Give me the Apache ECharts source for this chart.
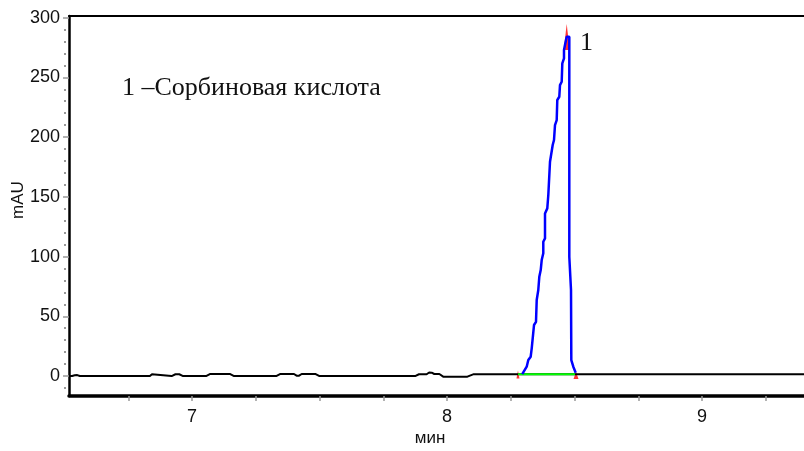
<!DOCTYPE html>
<html>
<head>
<meta charset="utf-8">
<script src="https://cdn.jsdelivr.net/npm/echarts@6/dist/echarts.min.js"></script>
<style>
  html, body { margin: 0; padding: 0; background: #fff; }
  #chart { width: 804px; height: 451px; }
</style>
</head>
<body>
<div id="chart"></div>
<script>
// axis ticks and labels
const xTicks = [6.75, 7, 7.25, 7.5, 7.75, 8, 8.25, 8.5, 8.75, 9, 9.25];
const xLabels = [7, 8, 9];
const yTicks = [0, 50, 100, 150, 200, 250, 300];
const yMinor = [-10, 10, 20, 30, 40, 60, 70, 80, 90, 110, 120, 130, 140, 160, 170, 180, 190,
  210, 220, 230, 240, 260, 270, 280, 290];

// black baseline trace (min, mAU)
const baseTime = [6.518, 6.525, 6.53, 6.54, 6.545, 6.55, 6.56, 6.58, 6.835, 6.843, 6.85, 6.92,
  6.935, 6.95, 6.965, 7.055, 7.07, 7.15, 7.165, 7.33, 7.345, 7.4, 7.41, 7.42, 7.43, 7.485, 7.5,
  7.875, 7.89, 7.92, 7.93, 7.94, 7.95, 7.97, 7.985, 8.08, 8.095, 8.105, 9.4];
const baseValue = [0, 0.5, 0, 0.6, 0, 0.8, 0, 0, 0, 1.5, 0, 0,
  1.5, 1.5, 0, 0, 1.7, 1.7, 0, 0, 1.7, 1.7, 0.3, 0.3, 1.7, 1.7, 0,
  0, 1.5, 1.5, 3, 2.8, 1.7, 1.7, -0.5, -0.5, 0.8, 1.6, 1.6];

// blue peak trace
const peakTime = [8.295, 8.2992, 8.3125, 8.3188, 8.3282, 8.3322, 8.3373, 8.3412, 8.349, 8.3518,
  8.358, 8.362, 8.3675, 8.3714, 8.3776, 8.3776, 8.3843, 8.3843, 8.3933, 8.3973, 8.4012, 8.4039,
  8.4106, 8.4145, 8.4196, 8.4235, 8.4302, 8.4325, 8.4404, 8.4431, 8.4498, 8.4522, 8.4588, 8.4588,
  8.4627, 8.4694, 8.4796, 8.4796, 8.4863, 8.4875, 8.4953, 8.5047];
const peakValue = [1.6, 2.8, 7.8, 13.4, 16.2, 23.2, 24.3, 42.7, 45.4, 63.6,
  72, 83.1, 88.7, 97.1, 102.7, 112.4, 115.2, 136.1, 140.3, 151.5, 152.9, 179.3,
  180.8, 193.3, 197.5, 210, 214.2, 231, 233.7, 243.5, 246.3, 261.7, 265.8, 272.8,
  277, 284, 284, 99.8, 72, 13.4, 7.8, 2.8];

// integration baseline (green) and markers (red)
const integTime = [8.2784, 8.502];
const integValue = [1.6, 1.6];
const apexMark = [8.4694, 283.7];
const startMark = [8.2784, 1.2];
const endMark = [8.5059, 0.4];

const zip = (a, b) => a.map((v, i) => [v, b[i]]);

const X_MIN = 6.5176, X_MAX = 9.4;
const Y_MIN = -16.7, Y_MAX = 301.3;

const chart = echarts.init(document.getElementById('chart'));
chart.setOption({
  animation: false,
  backgroundColor: '#fff',
  grid: { left: 69, right: 0, top: 16, bottom: 55 },
  xAxis: [
    {
      type: 'value', min: X_MIN, max: X_MAX, position: 'bottom',
      axisLine: { onZero: false, lineStyle: { color: '#000', width: 3.5 } },
      axisTick: { customValues: xTicks, length: 5, lineStyle: { color: '#999', width: 1.5 } },
      axisLabel: { customValues: xLabels, fontSize: 18, color: '#111', margin: 12, fontFamily: 'Liberation Sans' },
      splitLine: { show: false }
    },
    {
      type: 'value', min: X_MIN, max: X_MAX, position: 'top',
      axisLine: { onZero: false, lineStyle: { color: '#000', width: 2 } },
      axisTick: { show: false }, axisLabel: { show: false }, splitLine: { show: false }
    }
  ],
  yAxis: [
    {
      type: 'value', min: Y_MIN, max: Y_MAX, position: 'left',
      axisLine: { show: true, onZero: false, lineStyle: { color: '#000', width: 2.5 } },
      axisTick: { show: true, customValues: yTicks, length: 6, lineStyle: { color: '#999', width: 1.5 } },
      axisLabel: { customValues: yTicks, fontSize: 18, color: '#111', margin: 9, fontFamily: 'Liberation Sans' },
      splitLine: { show: false }
    },
    {
      // minor ticks drawn as small dots just left of the axis line
      type: 'value', min: Y_MIN, max: Y_MAX, position: 'left', offset: 3,
      axisLine: { show: false, onZero: false },
      axisTick: { show: true, customValues: yMinor, length: 2, lineStyle: { color: '#999', width: 2 } },
      axisLabel: { show: false }, splitLine: { show: false }
    }
  ],
  series: [
    {
      name: 'baseline', type: 'line', data: zip(baseTime, baseValue),
      showSymbol: false, lineStyle: { color: '#000', width: 2 }
    },
    {
      name: 'integration', type: 'line', data: zip(integTime, integValue),
      showSymbol: false, lineStyle: { color: '#00ff00', width: 2 }
    },
    {
      name: 'peak', type: 'line', data: zip(peakTime, peakValue),
      showSymbol: false, lineStyle: { color: '#0000ff', width: 2.5 }
    },
    {
      name: 'apex', type: 'scatter', data: [apexMark],
      symbol: 'triangle', symbolSize: [6, 26], itemStyle: { color: '#ff0000' }
    },
    {
      name: 'start', type: 'scatter', data: [startMark],
      symbol: 'triangle', symbolSize: [3, 8], itemStyle: { color: '#ff0000' }
    },
    {
      name: 'end', type: 'scatter', data: [endMark],
      symbol: 'triangle', symbolSize: [5, 7], itemStyle: { color: '#ff0000' }
    }
  ],
  graphic: [
    {
      type: 'text', x: 18, y: 200, rotation: Math.PI / 2,
      style: { text: 'mAU', fontSize: 17, fill: '#111', fontFamily: 'Liberation Sans', align: 'center', verticalAlign: 'middle' }
    },
    {
      type: 'text', x: 430, y: 438,
      style: { text: 'мин', fontSize: 17, fill: '#111', fontFamily: 'Liberation Sans', align: 'center', verticalAlign: 'middle' }
    },
    {
      type: 'text', x: 122, y: 88,
      style: { text: '1 –Сорбиновая кислота', fontSize: 26, fill: '#111', fontFamily: 'Liberation Serif', align: 'left', verticalAlign: 'middle' }
    },
    {
      type: 'text', x: 580, y: 43,
      style: { text: '1', fontSize: 26, fill: '#111', fontFamily: 'Liberation Serif', align: 'left', verticalAlign: 'middle' }
    }
  ]
});
</script>
</body>
</html>
